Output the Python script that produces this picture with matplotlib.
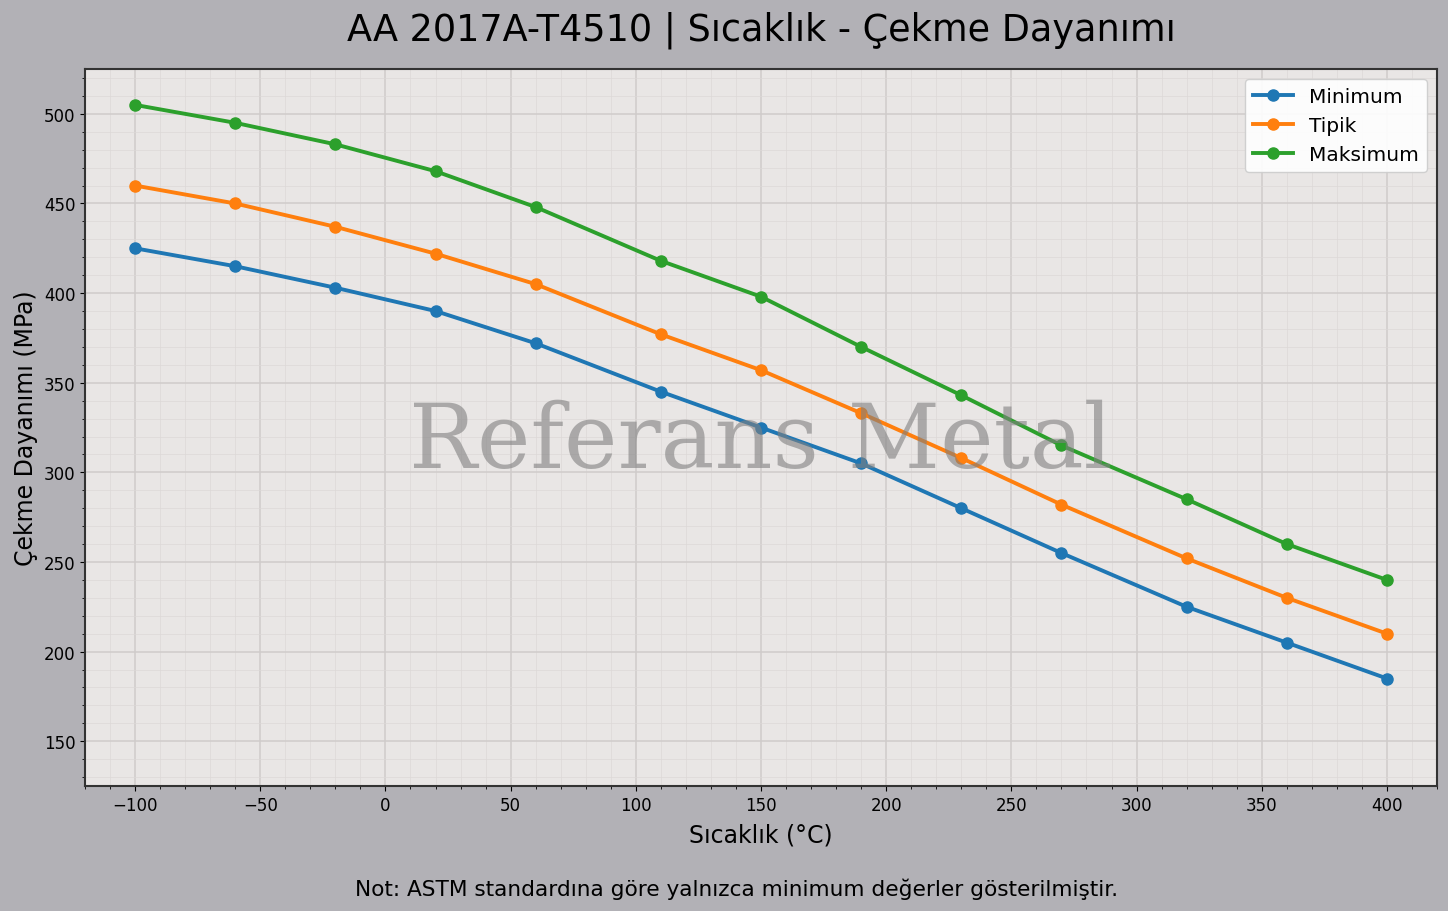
import matplotlib
matplotlib.use("Agg")
import matplotlib.pyplot as plt
from matplotlib.ticker import AutoMinorLocator, MultipleLocator

# Sicaklik (C) ve cekme dayanimi (MPa) degerleri
temps = [-100, -60, -20, 20, 60, 110, 150, 190, 230, 270, 320, 360, 400]
minimum = [425, 415, 403, 390, 372, 345, 325, 305, 280, 255, 225, 205, 185]
tipik = [460, 450, 437, 422, 405, 377, 357, 333, 308, 282, 252, 230, 210]
maksimum = [505, 495, 483, 468, 448, 418, 398, 370, 343, 315, 285, 260, 240]

series = [("Minimum", minimum, "#1f77b4"),
          ("Tipik", tipik, "#ff7f0e"),
          ("Maksimum", maksimum, "#2ca02c")]

fig = plt.figure(figsize=(14.48, 9.12), dpi=100, facecolor="#b2b1b6")
ax = fig.add_axes([0.0587, 0.137, 0.9337, 0.7862])
ax.set_facecolor("#e9e6e5")

for name, vals, col in series:
    ax.plot(temps, vals, marker="o", lw=2.8, ms=8, color=col, label=name)

ax.set_xlim(-120, 420)
ax.set_ylim(min(minimum) - 60, max(maksimum) + 20)

ax.xaxis.set_major_locator(MultipleLocator(50))
ax.xaxis.set_minor_locator(AutoMinorLocator(5))
ax.yaxis.set_minor_locator(AutoMinorLocator(5))
ax.grid(which="major", color="#cfcbca", lw=1.2, alpha=0.9)
ax.grid(which="minor", color="#dcd8d7", lw=0.6, alpha=0.8)
ax.set_axisbelow(True)
ax.tick_params(labelsize=12)

for s in ax.spines.values():
    s.set_color("#333333")
    s.set_linewidth(1.5)

ax.set_xlabel("Sıcaklık (°C)", fontsize=17, labelpad=6)
ax.set_ylabel("Çekme Dayanımı (MPa)", fontsize=17)
ax.set_title("AA 2017A-T4510 | Sıcaklık - Çekme Dayanımı", fontsize=26.4, pad=21)

ax.legend(loc="upper right", fontsize=14.5, framealpha=0.9, handlelength=2.0)

ax.text(0.5, 0.48, "Referans Metal", transform=ax.transAxes, ha="center", va="center",
        fontsize=65, family="DejaVu Serif", color="gray", alpha=0.6, zorder=10)

fig.text(0.509, 0.025, "Not: ASTM standardına göre yalnızca minimum değerler gösterilmiştir.",
         ha="center", va="center", fontsize=15.6)

fig.savefig("out.png", dpi=100, facecolor=fig.get_facecolor())
